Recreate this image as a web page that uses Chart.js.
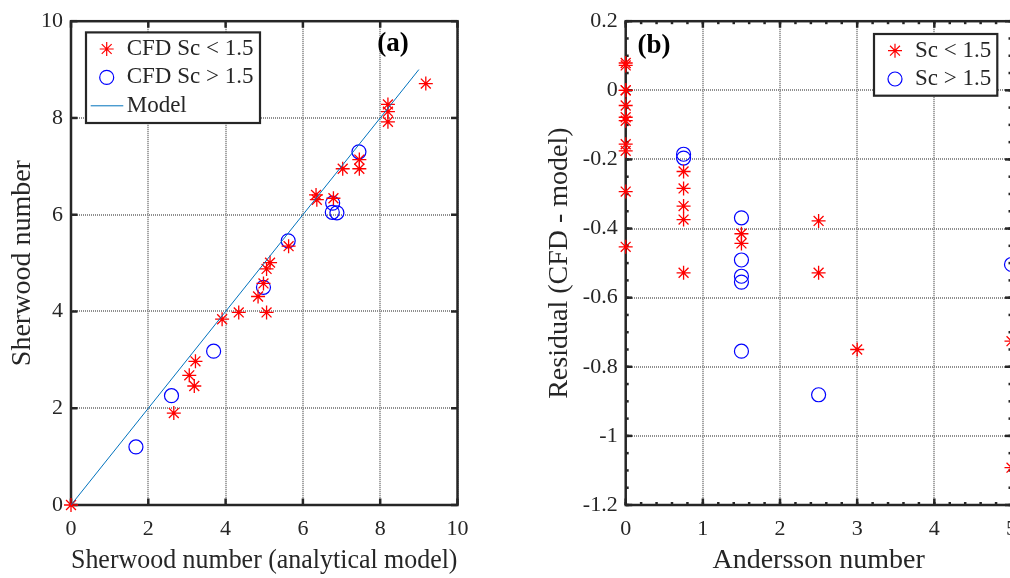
<!DOCTYPE html>
<html><head><meta charset="utf-8">
<script src="https://cdn.jsdelivr.net/npm/chart.js@4/dist/chart.umd.min.js"></script>
<style>
html,body{margin:0;padding:0;width:1010px;height:578px;overflow:hidden;background:#fff;}
#a{position:absolute;left:0;top:0;}
#b{position:absolute;left:505px;top:0;}
</style></head><body>
<canvas id="a" width="505" height="578"></canvas>
<canvas id="b" width="530" height="578"></canvas>
<script>
// ---------- data: panel (a) ----------
const cfdLowX  = [0, 2.66, 3.06, 3.19, 3.22, 3.91, 4.34, 5.06, 4.84, 4.98, 5.06, 5.15, 5.63, 6.34, 6.36, 6.79, 7.03, 7.46, 7.46, 8.20, 8.20, 8.20, 9.18];
const cfdLowY  = [0, 1.90, 2.68, 2.46, 2.97, 3.84, 3.98, 3.98, 4.31, 4.58, 4.88, 5.01, 5.35, 6.41, 6.31, 6.34, 6.95, 6.95, 7.14, 8.28, 8.13, 7.92, 8.71];
const cfdHighX = [1.68, 2.60, 3.69, 4.98, 5.62, 6.77, 6.76, 6.88, 7.45];
const cfdHighY = [1.20, 2.26, 3.18, 4.50, 5.46, 6.24, 6.05, 6.04, 7.30];
const modelX   = [0, 9];
const modelY   = [0, 9];
const aXTicks = [0, 2, 4, 6, 8, 10];
const aXTickLabels = ['0', '2', '4', '6', '8', '10'];
const aYTicks = [0, 2, 4, 6, 8, 10];
const aYTickLabels = ['0', '2', '4', '6', '8', '10'];

// ---------- data: panel (b) ----------
const lowAndersson  = [0, 0, 0, 0, 0, 0, 0, 0, 0, 0, 0, 0.75, 0.75, 0.75, 0.75, 0.75, 1.5, 1.5, 2.5, 2.5, 3, 5, 5];
const lowResidual   = [0.079, 0.072, 0, 0, -0.044, -0.078, -0.088, -0.156, -0.175, -0.293, -0.453, -0.235, -0.284, -0.335, -0.374, -0.528, -0.415, -0.443, -0.378, -0.528, -0.750, -0.726, -1.092];
const highAndersson = [0.75, 0.75, 1.5, 1.5, 1.5, 1.5, 1.5, 2.5, 5];
const highResidual  = [-0.185, -0.196, -0.369, -0.491, -0.538, -0.555, -0.755, -0.881, -0.504];
const bXTicks = [0, 1, 2, 3, 4, 5];
const bXTickLabels = ['0', '1', '2', '3', '4', '5'];
const bYTicks = [-1.2, -1, -0.8, -0.6, -0.4, -0.2, 0, 0.2];
const bYTickLabels = ['-1.2', '-1', '-0.8', '-0.6', '-0.4', '-0.2', '0', '0.2'];

// ---------- styles ----------
const FAMILY = '"Liberation Serif", "DejaVu Serif", serif';
const TXT = '#262626';
const AX = '#262626';
const GRID = '#8f8f8f';
const RED = '#ff0000';
const BLUE = '#0000ff';
const LINEC = '#0072BD';

function pts(xs, ys) { return xs.map((x, i) => ({x: x, y: ys[i]})); }

function drawStar(ctx, x, y, r) {
  ctx.beginPath();
  for (let k = 0; k < 4; k++) {
    const ang = k * Math.PI / 4;
    const dx = Math.cos(ang) * r, dy = Math.sin(ang) * r;
    ctx.moveTo(x - dx, y - dy); ctx.lineTo(x + dx, y + dy);
  }
  ctx.stroke();
}

const framePlugin = {
  id: 'frame',
  beforeDatasetsDraw(chart, args, o) {
    const {ctx, chartArea: a, scales} = chart;
    const xs = scales.x, ys = scales.y;
    ctx.save();
    ctx.strokeStyle = AX;
    ctx.lineWidth = 2.5;
    const seg = (x1, y1, x2, y2) => { ctx.beginPath(); ctx.moveTo(x1, y1); ctx.lineTo(x2, y2); ctx.stroke(); };
    const tickX = (v, len) => { const p = xs.getPixelForValue(v); seg(p, a.bottom, p, a.bottom - len); seg(p, a.top, p, a.top + len); };
    const tickY = (v, len) => { const p = ys.getPixelForValue(v); seg(a.left, p, a.left + len, p); seg(a.right, p, a.right - len, p); };
    xs.ticks.forEach(t => tickX(t.value, 6.5));
    ys.ticks.forEach(t => tickY(t.value, 6.5));
    if (o.minorX) {
      for (let v = xs.min; v <= xs.max + 1e-9; v += o.minorX) tickX(v, 3);
    }
    if (o.minorY) {
      for (let v = ys.min; v <= ys.max + 1e-9; v += o.minorY) tickY(v, 3);
    }
    ctx.strokeRect(a.left, a.top, a.right - a.left, a.bottom - a.top);
    ctx.restore();
  },
  afterDatasetsDraw(chart, args, o) {
    const {ctx, chartArea: a} = chart;
    ctx.save();
    // panel label
    ctx.fillStyle = '#000';
    ctx.font = 'bold 27px ' + FAMILY;
    ctx.textAlign = 'center';
    ctx.textBaseline = 'middle';
    ctx.fillText(o.tag, a.left + o.tagDx, a.top + o.tagDy);
    // legend
    const L = o.legend;
    const bx = a.left + L.dx, by = a.top + L.dy;
    ctx.fillStyle = '#fff';
    ctx.fillRect(bx, by, L.w, L.h);
    ctx.strokeStyle = AX;
    ctx.lineWidth = 2.2;
    ctx.strokeRect(bx, by, L.w, L.h);
    ctx.font = '23px ' + FAMILY;
    ctx.textAlign = 'left';
    ctx.textBaseline = 'middle';
    L.items.forEach((it, i) => {
      const cy = by + L.first + i * L.step;
      const mx = bx + L.mx;
      if (it.type === 'star') {
        ctx.strokeStyle = RED; ctx.lineWidth = 1.2; drawStar(ctx, mx, cy, 7);
      } else if (it.type === 'circle') {
        ctx.strokeStyle = BLUE; ctx.lineWidth = 1.2; ctx.beginPath(); ctx.arc(mx, cy, 7, 0, Math.PI * 2); ctx.stroke();
      } else {
        ctx.strokeStyle = LINEC; ctx.lineWidth = 1; ctx.beginPath(); ctx.moveTo(bx + 4.7, cy); ctx.lineTo(bx + 37.3, cy); ctx.stroke();
      }
      ctx.fillStyle = TXT;
      ctx.fillText(it.label, bx + L.tx, cy);
    });
    ctx.restore();
  }
};

function axis(min, max, vals, labels, isX, title, tpad, fitSize) {
  return {
    type: 'linear', min: min, max: max,
    afterBuildTicks: s => { s.ticks = vals.map(v => ({value: v})); },
    ticks: {
      callback: (v, i) => labels[i],
      font: {family: FAMILY, size: 22, lineHeight: 1.2},
      color: TXT,
      padding: isX ? 10.8 : 8,
      maxRotation: 0, autoSkip: false
    },
    grid: {color: GRID, lineWidth: 2, drawTicks: false},
    border: {display: false, dash: [1, 1]},
    title: {display: true, text: title, color: TXT,
      font: {family: FAMILY, size: 28, lineHeight: 1.2},
      padding: tpad},
    afterFit: s => { if (isX) s.height = fitSize; else s.width = fitSize; }
  };
}

function starSet(label, data) {
  return {label: label, data: data, pointStyle: 'star', pointRadius: 7, pointHoverRadius: 7,
    borderColor: RED, pointBorderWidth: 1.3, backgroundColor: 'rgba(0,0,0,0)', clip: false};
}
function circleSet(label, data) {
  return {label: label, data: data, pointStyle: 'circle', pointRadius: 7, pointHoverRadius: 7,
    borderColor: BLUE, pointBorderWidth: 1.2, backgroundColor: 'rgba(0,0,0,0)', clip: false};
}

new Chart(document.getElementById('a'), {
  type: 'scatter',
  data: {datasets: [
    {type: 'line', label: 'Model', data: pts(modelX, modelY), borderColor: LINEC, borderWidth: 1,
     pointRadius: 0, fill: false, tension: 0},
    starSet('CFD Sc < 1.5', pts(cfdLowX, cfdLowY)),
    circleSet('CFD Sc > 1.5', pts(cfdHighX, cfdHighY))
  ]},
  options: {
    responsive: false, animation: false, devicePixelRatio: 1,
    layout: {padding: {left: 0, right: 47.5, top: 15.5, bottom: 0}},
    plugins: {
      legend: {display: false}, tooltip: {enabled: false},
      frame: {tag: '(a)', tagDx: 322, tagDy: 22.5,
        legend: {dx: 15, dy: 11.2, w: 174, h: 90.6, first: 16.6, step: 28.4, mx: 20.7, tx: 40.7,
          items: [{type: 'star', label: 'CFD Sc < 1.5'}, {type: 'circle', label: 'CFD Sc > 1.5'}, {type: 'line', label: 'Model'}]}}
    },
    scales: {
      x: axis(0, 10, aXTicks, aXTickLabels, true, 'Sherwood number (analytical model)', {top: 0, bottom: 0.5}, 73),
      y: axis(0, 10, aYTicks, aYTickLabels, false, 'Sherwood number', {top: 5.7, bottom: 0}, 71)
    }
  },
  plugins: [framePlugin]
});

new Chart(document.getElementById('b'), {
  type: 'scatter',
  data: {datasets: [
    starSet('Sc < 1.5', pts(lowAndersson, lowResidual)),
    circleSet('Sc > 1.5', pts(highAndersson, highResidual))
  ]},
  options: {
    responsive: false, animation: false, devicePixelRatio: 1,
    layout: {padding: {left: 0, right: 23.5, top: 15.5, bottom: 0}},
    plugins: {
      legend: {display: false}, tooltip: {enabled: false},
      frame: {tag: '(b)', tagDx: 28.3, tagDy: 24.5, minorX: 0.2, minorY: 0.05,
        legend: {dx: 248.3, dy: 12.8, w: 123.3, h: 61.7, first: 16.7, step: 28.3, mx: 21, tx: 41,
          items: [{type: 'star', label: 'Sc < 1.5'}, {type: 'circle', label: 'Sc > 1.5'}]}}
    },
    scales: {
      x: axis(0, 5, bXTicks, bXTickLabels, true, 'Andersson number', {top: 0, bottom: 0.5}, 73),
      y: axis(-1.2, 0.2, bYTicks, bYTickLabels, false, 'Residual (CFD - model)', {top: 38.2, bottom: 0}, 120.7)
    }
  },
  plugins: [framePlugin]
});
</script>
</body></html>
